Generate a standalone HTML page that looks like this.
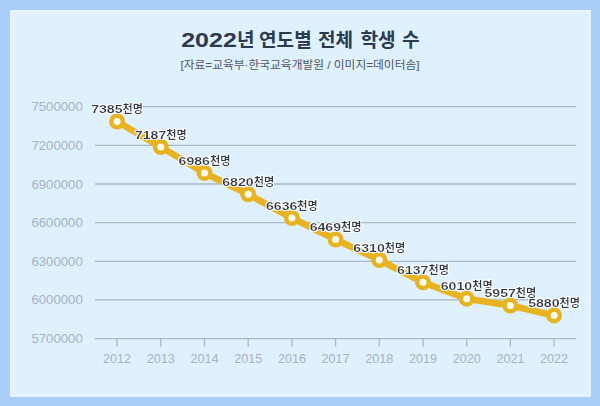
<!DOCTYPE html>
<html lang="ko">
<head>
<meta charset="utf-8">
<title>2022년 연도별 전체 학생 수</title>
<style>
html,body{margin:0;padding:0;}
body{width:600px;height:406px;overflow:hidden;background:#a9cefa;font-family:"Liberation Sans","Noto Sans CJK KR",sans-serif;}
.frame{position:relative;width:600px;height:406px;background:#a9cefa;overflow:hidden;}
.panel{position:absolute;left:10px;top:9.5px;width:581px;height:387px;background:#dff0fe;box-shadow:inset 0 0 0 3px rgba(236,248,255,0.55);}
svg{position:absolute;left:0;top:0;}
svg text{font-family:"Liberation Sans","Noto Sans CJK KR",sans-serif;}
.title{font-size:19.1px;font-weight:700;fill:#2b3a4f;}
.title .tn{font-size:20.3px;}
.sub{font-size:11.74px;fill:#52575d;text-anchor:middle;}
.grid line{stroke:#a8b8c6;stroke-width:1.3;}
.ylab text{font-size:12.7px;fill:#a6b4c1;}
.xlab text{font-size:12.6px;fill:#a6b4c1;text-anchor:middle;}
.line{fill:none;stroke:#e8b320;stroke-width:6.6;stroke-linejoin:round;stroke-linecap:round;}
.marks circle{fill:#fffdf0;stroke:#e8b320;stroke-width:4.5;}
.dl text{font-weight:700;fill:#333a46;filter:url(#halo);}
.dl .n{font-size:11.8px;}
.dl .k{font-size:10.9px;}
</style>
</head>
<body>
<div class="frame">
<div class="panel"></div>
<svg width="600" height="406" viewBox="0 0 600 406">
<defs>
<filter id="halo" x="-10%" y="-40%" width="120%" height="180%">
<feMorphology in="SourceAlpha" operator="dilate" radius="1.4" result="d"/>
<feGaussianBlur in="d" stdDeviation="0.7" result="b"/>
<feFlood flood-color="#ffffff" flood-opacity="0.95"/>
<feComposite in2="b" operator="in" result="h"/>
<feMerge><feMergeNode in="h"/><feMergeNode in="SourceGraphic"/></feMerge>
</filter>
</defs>
<text class="title" y="47.3"><tspan class="tn" x="181.2" textLength="55.6" lengthAdjust="spacingAndGlyphs">2022</tspan><tspan x="237.0">년</tspan> <tspan x="259.0">연도별</tspan> <tspan x="318.0">전체</tspan> <tspan x="360.4">학생</tspan> <tspan x="402.0">수</tspan></text>
<text class="sub" x="300" y="69.0">[자료=교육부·한국교육개발원 / 이미지=데이터솜]</text>
<g class="grid">
<line x1="95" x2="576" y1="106.70" y2="106.70"/>
<line x1="95" x2="576" y1="145.35" y2="145.35"/>
<line x1="95" x2="576" y1="184.00" y2="184.00"/>
<line x1="95" x2="576" y1="222.65" y2="222.65"/>
<line x1="95" x2="576" y1="261.30" y2="261.30"/>
<line x1="95" x2="576" y1="299.95" y2="299.95"/>
<line x1="95" x2="576" y1="338.60" y2="338.60"/>
<line x1="117.10" x2="117.10" y1="338.60" y2="346.80"/>
<line x1="160.80" x2="160.80" y1="338.60" y2="346.80"/>
<line x1="204.50" x2="204.50" y1="338.60" y2="346.80"/>
<line x1="248.20" x2="248.20" y1="338.60" y2="346.80"/>
<line x1="291.90" x2="291.90" y1="338.60" y2="346.80"/>
<line x1="335.60" x2="335.60" y1="338.60" y2="346.80"/>
<line x1="379.30" x2="379.30" y1="338.60" y2="346.80"/>
<line x1="423.00" x2="423.00" y1="338.60" y2="346.80"/>
<line x1="466.70" x2="466.70" y1="338.60" y2="346.80"/>
<line x1="510.40" x2="510.40" y1="338.60" y2="346.80"/>
<line x1="554.10" x2="554.10" y1="338.60" y2="346.80"/>
</g>
<g class="ylab">
<text x="31.4" y="111.20" textLength="51.4" lengthAdjust="spacingAndGlyphs">7500000</text>
<text x="31.4" y="149.85" textLength="51.4" lengthAdjust="spacingAndGlyphs">7200000</text>
<text x="31.4" y="188.50" textLength="51.4" lengthAdjust="spacingAndGlyphs">6900000</text>
<text x="31.4" y="227.15" textLength="51.4" lengthAdjust="spacingAndGlyphs">6600000</text>
<text x="31.4" y="265.80" textLength="51.4" lengthAdjust="spacingAndGlyphs">6300000</text>
<text x="31.4" y="304.45" textLength="51.4" lengthAdjust="spacingAndGlyphs">6000000</text>
<text x="31.4" y="343.10" textLength="51.4" lengthAdjust="spacingAndGlyphs">5700000</text>
</g>
<g class="xlab">
<text x="117.10" y="363.3">2012</text>
<text x="160.80" y="363.3">2013</text>
<text x="204.50" y="363.3">2014</text>
<text x="248.20" y="363.3">2015</text>
<text x="291.90" y="363.3">2016</text>
<text x="335.60" y="363.3">2017</text>
<text x="379.30" y="363.3">2018</text>
<text x="423.00" y="363.3">2019</text>
<text x="466.70" y="363.3">2020</text>
<text x="510.40" y="363.3">2021</text>
<text x="554.10" y="363.3">2022</text>
</g>
<polyline class="line" points="117.10,121.52 160.80,147.02 204.50,172.92 248.20,194.31 291.90,218.01 335.60,239.53 379.30,260.01 423.00,282.30 466.70,298.66 510.40,305.49 554.10,315.41"/>
<g class="marks">
<circle cx="117.10" cy="121.52" r="5.75"/>
<circle cx="160.80" cy="147.02" r="5.75"/>
<circle cx="204.50" cy="172.92" r="5.75"/>
<circle cx="248.20" cy="194.31" r="5.75"/>
<circle cx="291.90" cy="218.01" r="5.75"/>
<circle cx="335.60" cy="239.53" r="5.75"/>
<circle cx="379.30" cy="260.01" r="5.75"/>
<circle cx="423.00" cy="282.30" r="5.75"/>
<circle cx="466.70" cy="298.66" r="5.75"/>
<circle cx="510.40" cy="305.49" r="5.75"/>
<circle cx="554.10" cy="315.41" r="5.75"/>
</g>
<g class="dl">
<text x="91.15" y="113.22"><tspan class="n" textLength="31.40" lengthAdjust="spacingAndGlyphs">7385</tspan><tspan class="k" textLength="20.50" lengthAdjust="spacingAndGlyphs">천명</tspan></text>
<text x="134.85" y="138.72"><tspan class="n" textLength="31.40" lengthAdjust="spacingAndGlyphs">7187</tspan><tspan class="k" textLength="20.50" lengthAdjust="spacingAndGlyphs">천명</tspan></text>
<text x="178.55" y="164.62"><tspan class="n" textLength="31.40" lengthAdjust="spacingAndGlyphs">6986</tspan><tspan class="k" textLength="20.50" lengthAdjust="spacingAndGlyphs">천명</tspan></text>
<text x="222.25" y="186.01"><tspan class="n" textLength="31.40" lengthAdjust="spacingAndGlyphs">6820</tspan><tspan class="k" textLength="20.50" lengthAdjust="spacingAndGlyphs">천명</tspan></text>
<text x="265.95" y="209.71"><tspan class="n" textLength="31.40" lengthAdjust="spacingAndGlyphs">6636</tspan><tspan class="k" textLength="20.50" lengthAdjust="spacingAndGlyphs">천명</tspan></text>
<text x="309.65" y="231.23"><tspan class="n" textLength="31.40" lengthAdjust="spacingAndGlyphs">6469</tspan><tspan class="k" textLength="20.50" lengthAdjust="spacingAndGlyphs">천명</tspan></text>
<text x="353.35" y="251.71"><tspan class="n" textLength="31.40" lengthAdjust="spacingAndGlyphs">6310</tspan><tspan class="k" textLength="20.50" lengthAdjust="spacingAndGlyphs">천명</tspan></text>
<text x="397.05" y="274.00"><tspan class="n" textLength="31.40" lengthAdjust="spacingAndGlyphs">6137</tspan><tspan class="k" textLength="20.50" lengthAdjust="spacingAndGlyphs">천명</tspan></text>
<text x="440.75" y="290.36"><tspan class="n" textLength="31.40" lengthAdjust="spacingAndGlyphs">6010</tspan><tspan class="k" textLength="20.50" lengthAdjust="spacingAndGlyphs">천명</tspan></text>
<text x="484.45" y="297.19"><tspan class="n" textLength="31.40" lengthAdjust="spacingAndGlyphs">5957</tspan><tspan class="k" textLength="20.50" lengthAdjust="spacingAndGlyphs">천명</tspan></text>
<text x="528.15" y="307.11"><tspan class="n" textLength="31.40" lengthAdjust="spacingAndGlyphs">5880</tspan><tspan class="k" textLength="20.50" lengthAdjust="spacingAndGlyphs">천명</tspan></text>
</g>
</svg>
</div>
</body>
</html>
